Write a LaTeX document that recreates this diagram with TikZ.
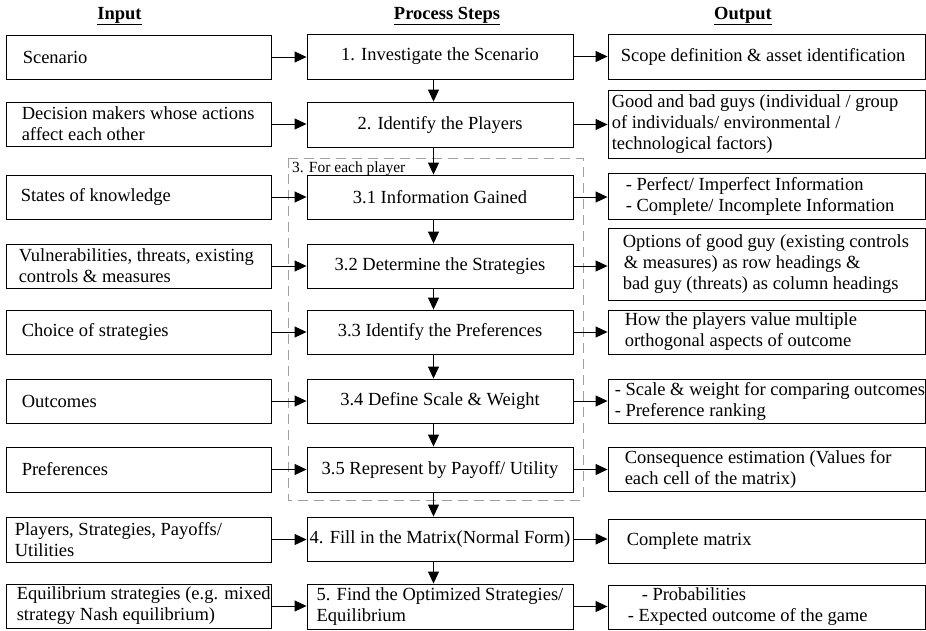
\documentclass[tikz,border=0pt]{standalone}
\usepackage{fontspec}
\setmainfont{Liberation Serif}
\usetikzlibrary{arrows.meta,calc}
\newcommand\myfs{\fontsize{18.5}{21}\selectfont}
\newcommand\mysmallfs{\fontsize{15.5}{18}\selectfont}
\begin{document}
\begin{tikzpicture}[x=1pt,y=-1pt,
  box/.style={draw=black, line width=0.9pt, inner sep=0pt, minimum height=44pt},
  lbox/.style={box, minimum width=265pt},
  mbox/.style={box, minimum width=266pt, align=center, font=\myfs},
  rbox/.style={box, minimum width=317pt},
  txt/.style={anchor=west, align=left, inner sep=0pt, font=\myfs},
  arr/.style={line width=0.9pt, -{Triangle[length=12pt,width=11pt]}},
  hdr/.style={font=\myfs\bfseries, anchor=base, inner sep=0pt},
  dashbox/.style={draw=gray!75, line width=0.9pt, dash pattern=on 10pt off 6pt}
]
\useasboundingbox (0,0) rectangle (926,630);

% headers
\node[hdr] (hin) at (119.5,19) {\underline{Input}};
\node[hdr] (hproc) at (447,19) {\underline{Process Steps}};
\node[hdr] (hout) at (743,19) {\underline{Output}};

% dashed group
\draw[dashbox] (288,158) rectangle (583,500);
\node[anchor=base west, inner sep=0pt, font=\mysmallfs] (grp) at (292,172) {3. For each player};

% input boxes
\node[lbox] (in1) at (138.5,57) {};
\node[lbox] (in2) at (138.5,124) {};
\node[lbox] (in3) at (138.5,197) {};
\node[lbox] (in4) at (138.5,266) {};
\node[lbox] (in5) at (138.5,332) {};
\node[lbox] (in6) at (138.5,401) {};
\node[lbox, minimum height=45pt] (in7) at (138.5,469.5) {};
\node[lbox, minimum height=45pt] (in8) at (138.5,539.5) {};
\node[lbox] (in9) at (138.5,606) {};

\node[txt] (tin1) at ([xshift=17pt]in1.west) {Scenario};
\node[txt] (tin2) at ([xshift=16pt]in2.west) {Decision makers whose actions\\affect each other};
\node[txt] (tin3) at ([xshift=15pt]in3.west) {States of knowledge};
\node[txt] (tin4) at ([xshift=13pt]in4.west) {Vulnerabilities, threats, existing\\controls \& measures};
\node[txt] (tin5) at ([xshift=16pt]in5.west) {Choice of strategies};
\node[txt] (tin6) at ([xshift=16pt]in6.west) {Outcomes};
\node[txt] (tin7) at ([xshift=16pt]in7.west) {Preferences};
\node[txt] (tin8) at ([xshift=9pt]in8.west) {Players, Strategies, Payoffs/\\Utilities};
\node[txt] (tin9) at ([xshift=11pt]in9.west) {Equilibrium strategies (e.g. mixed\\strategy Nash equilibrium)};

% process boxes
\node[mbox, minimum height=45pt] (m1) at (440,56.5) {1. Investigate the Scenario};
\node[mbox, minimum height=45pt] (m2) at (440,124.5) {2. Identify the Players};
\node[mbox] (m3) at (440,197) {3.1 Information Gained};
\node[mbox] (m4) at (440,266) {3.2 Determine the Strategies};
\node[mbox] (m5) at (440,332) {3.3 Identify the Preferences};
\node[mbox] (m6) at (440,401) {3.4 Define Scale \& Weight};
\node[mbox, minimum height=45pt] (m7) at (440,469.5) {3.5 Represent by Payoff/ Utility};
\node[mbox] (m8) at (440,539) {4. Fill in the Matrix(Normal Form)};
\node[mbox, minimum height=45pt, align=left] (m9) at (440,606.5) {5. Find the Optimized Strategies/\\Equilibrium};

% output boxes
\node[rbox, minimum height=45pt] (o1) at (766.5,56.5) {};
\node[rbox, minimum height=68pt] (o2) at (766.5,124) {};
\node[rbox, minimum height=46pt] (o3) at (766.5,196) {};
\node[rbox, minimum height=72pt] (o4) at (766.5,264) {};
\node[rbox] (o5) at (766.5,332) {};
\node[rbox] (o6) at (766.5,401) {};
\node[rbox] (o7) at (766.5,469) {};
\node[rbox] (o8) at (766.5,541) {};
\node[rbox] (o9) at (766.5,607) {};

\node[txt] (to1) at ([xshift=13pt]o1.west) {Scope definition \& asset identification};
\node[txt] (to2) at ([xshift=4pt]o2.west) {Good and bad guys (individual / group\\of individuals/ environmental /\\technological factors)};
\node[txt] (to3) at ([xshift=18pt]o3.west) {- Perfect/ Imperfect Information\\- Complete/ Incomplete Information};
\node[txt] (to4) at ([xshift=15pt]o4.west) {Options of good guy (existing controls\\\hspace*{1pt}\& measures) as row headings \&\\bad guy (threats) as column headings};
\node[txt] (to5) at ([xshift=17pt]o5.west) {How the players value multiple\\orthogonal aspects of outcome};
\node[txt] (to6) at ([xshift=7pt]o6.west) {- Scale \& weight for comparing outcomes\\- Preference ranking};
\node[txt] (to7) at ([xshift=17pt]o7.west) {Consequence estimation (Values for\\each cell of the matrix)};
\node[txt] (to8) at ([xshift=19pt]o8.west) {Complete matrix};
\node[txt] (to9) at ([xshift=20pt]o9.west) {\hspace*{14pt}- Probabilities\\- Expected outcome of the game};

% horizontal arrows
\foreach \i in {1,...,9}{
  \draw[arr] (in\i.east) -- (in\i.east -| m\i.west);
  \draw[arr] (m\i.east) -- (m\i.east -| o\i.west);
}

% vertical arrows
\coordinate (ax) at (433.5,0);
\foreach \i/\j in {1/2,2/3,3/4,4/5,5/6,6/7,7/8,8/9}{
  \draw[arr] (m\i.south -| ax) -- (m\j.north -| ax);
}
\end{tikzpicture}
\end{document}
